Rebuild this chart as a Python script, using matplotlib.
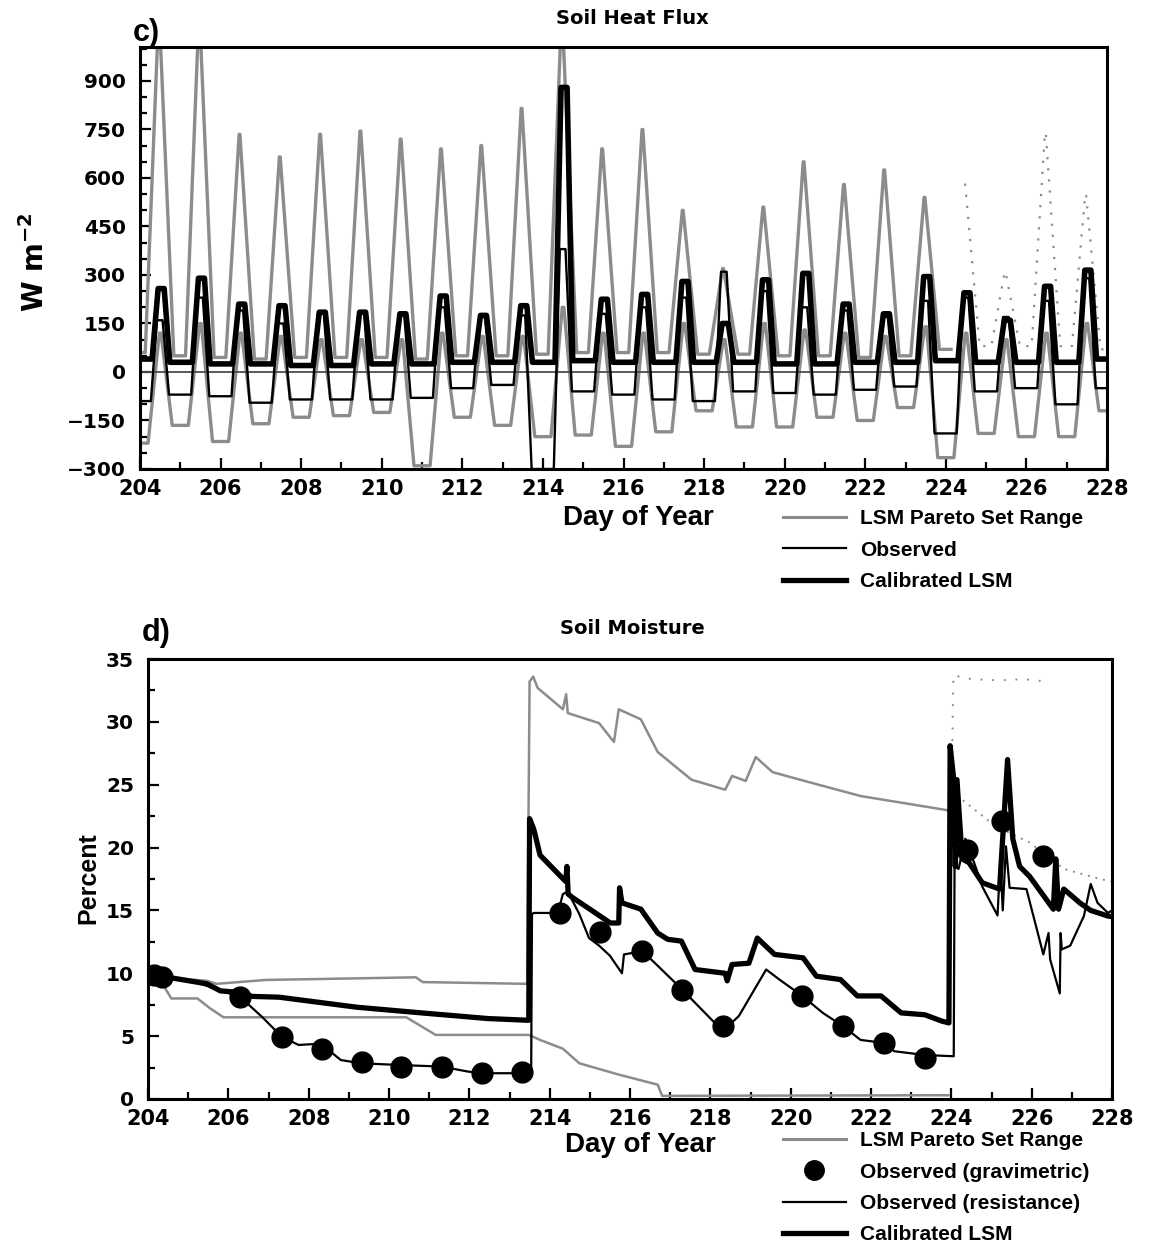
import numpy as np
import matplotlib
matplotlib.use('Agg')
import matplotlib.pyplot as plt
from matplotlib.lines import Line2D
from matplotlib.legend_handler import HandlerLine2D
from matplotlib.ticker import MultipleLocator

plt.rcParams['font.family'] = ['DejaVu Sans']
plt.rcParams['font.weight'] = 'bold'
plt.rcParams['mathtext.default'] = 'bf'
NARROW = ['Liberation Sans Narrow', 'Liberation Sans', 'DejaVu Sans']

# ---------------- panel c) soil heat flux, read per day / per night ----------------
days = np.arange(204, 228)   # daytime peaks of days 204..227
# 25 nights: before day 204, between each pair of days, after day 227

pareto_hi_peak = [1100, 1100, 735, 665, 735, 745, 720, 690, 700, 815, 1100, 690,
                  750, 500, 320, 510, 650, 580, 625, 540, 580, 310, 740, 550]
pareto_hi_night = [60, 50, 45, 40, 45, 45, 45, 40, 50, 50, 55, 60, 60,
                   60, 55, 55, 50, 50, 45, 50, 70, 80, 80, 80, 70]
pareto_lo_peak = [120, 150, 120, 110, 100, 100, 100, 120, 110, 110, 200, 120,
                  120, 150, 100, 150, 130, 120, 110, 140, 120, 100, 120, 150]
pareto_lo_night = [-220, -165, -215, -160, -140, -135, -125, -290, -140, -165, -200, -195, -230,
                   -185, -120, -170, -170, -140, -150, -110, -265, -190, -200, -200, -120]
obs_peak = [160, 230, 190, 150, 185, 185, 175, 200, 170, 175, 380, 180,
            200, 230, 310, 250, 200, 190, 170, 220, 230, 170, 220, 290]
obs_night = [-90, -70, -75, -95, -85, -85, -85, -80, -50, -40, -300, -60, -70,
             -85, -90, -60, -65, -70, -55, -45, -190, -60, -50, -100, -50]
cal_peak = [258, 290, 210, 205, 185, 185, 180, 235, 175, 205, 880, 225,
            240, 280, 150, 285, 305, 210, 180, 295, 245, 160, 265, 315]
cal_night = [40, 30, 25, 25, 20, 20, 25, 25, 30, 30, 30, 35, 30,
             30, 30, 30, 25, 25, 30, 30, 35, 30, 30, 30, 40]

# ---------------- panel d) soil moisture ----------------
grav_day = [204.15, 204.35, 206.28, 207.33, 208.32, 209.32, 210.31, 211.31, 212.32, 213.30,
            214.25, 215.25, 216.31, 217.30, 218.31, 220.29, 221.30, 222.32, 223.34,
            224.40, 225.26, 226.29]
grav_val = [9.9, 9.7, 8.1, 4.95, 4.0, 2.97, 2.58, 2.58, 2.1, 2.18,
            14.8, 13.3, 11.8, 8.7, 5.8, 8.2, 5.8, 4.46, 3.27,
            19.8, 22.1, 19.3]

res_day = [204.0, 205.0, 206.3, 206.85, 207.33, 207.75, 208.3, 208.8, 209.3, 210.3, 211.3,
           211.97, 212.32, 213.28, 213.54, 213.56, 213.6, 214.2, 214.33, 214.45, 214.74,
           214.98, 215.23, 215.5, 215.8, 215.85, 216.31, 216.69, 217.3, 217.79, 218.31,
           218.71, 219.39, 219.72, 220.29, 220.8, 221.3, 221.74, 222.32, 222.58, 223.34,
           224.06, 224.08, 224.18, 224.35, 224.6, 224.77, 225.15, 225.22, 225.28, 225.36,
           225.45, 225.87, 226.29, 226.42, 226.46, 226.7, 226.72, 226.75, 226.96, 227.3,
           227.47, 227.64, 227.9, 228.0]
res_val = [9.7, 9.5, 8.1, 6.5, 4.95, 4.3, 4.4, 3.1, 2.84, 2.7, 2.58,
           2.18, 2.05, 2.05, 2.3, 14.7, 14.8, 14.8, 16.3, 16.5, 14.7,
           12.8, 12.2, 11.4, 10.0, 11.5, 11.76, 10.6, 8.7, 7.1, 5.4,
           6.6, 10.3, 9.5, 8.2, 6.85, 5.8, 4.7, 4.46, 3.8, 3.5,
           3.4, 18.5, 18.3, 20.7, 18.5, 16.9, 14.6, 19.1, 15.0, 20.1,
           16.8, 16.7, 11.5, 13.2, 11.1, 8.4, 13.2, 11.9, 12.2, 14.55,
           17.1, 15.6, 14.8, 15.0]

cal_day = [204.0, 205.47, 205.8, 206.2, 206.6, 207.26, 209.2, 210.84, 212.46, 213.48,
           213.5, 213.6, 213.64, 213.76, 214.4, 214.43, 214.46, 214.58, 215.0, 215.51,
           215.72, 215.74, 215.8, 216.27, 216.69, 216.94, 217.28, 217.62, 218.37, 218.42,
           218.54, 218.96, 219.17, 219.6, 220.31, 220.64, 221.24, 221.66, 222.25, 222.75,
           223.34, 223.76, 223.94, 223.97, 224.06, 224.1, 224.14, 224.27, 224.44, 224.77,
           225.2, 225.4, 225.53, 225.7, 225.95, 226.54, 226.6, 226.67, 226.8, 227.2,
           227.47, 227.9, 228.0]
cal_val = [9.95, 9.16, 8.6, 8.5, 8.16, 8.1, 7.3, 6.84, 6.4, 6.26,
           22.3, 21.5, 21.0, 19.4, 17.3, 18.5, 16.3, 16.0, 15.1, 14.0,
           14.0, 16.8, 15.6, 15.1, 13.2, 12.7, 12.56, 10.3, 10.0, 9.4,
           10.7, 10.8, 12.8, 11.5, 11.23, 9.77, 9.5, 8.2, 8.2, 6.85,
           6.7, 6.2, 6.05, 28.1, 25.4, 18.5, 25.4, 19.1, 18.8, 17.2,
           16.7, 27.0, 20.7, 18.5, 17.7, 15.1, 19.1, 15.1, 16.7, 15.6,
           15.0, 14.55, 14.5]

phi_day = [204.0, 205.47, 205.7, 206.93, 210.67, 210.84, 213.44, 213.5, 213.59, 213.7,
           214.33, 214.41, 214.45, 215.23, 215.6, 215.72, 216.27, 216.69, 217.53, 218.37,
           218.54, 218.88, 219.13, 219.55, 220.23, 221.74, 223.85, 223.97]
phi_val = [9.8, 9.4, 9.16, 9.47, 9.68, 9.3, 9.16, 33.2, 33.6, 32.7,
           31.0, 32.2, 30.7, 29.9, 28.4, 31.0, 30.2, 27.6, 25.4, 24.6,
           25.7, 25.3, 27.2, 26.0, 25.4, 24.1, 23.0, 22.9]
# after day 224 the upper part of the range is only drawn as sparse dots
phi_top_day = [224.0, 224.05, 224.5, 225.2, 225.8, 226.4]
phi_top_val = [22.9, 33.7, 33.4, 33.3, 33.4, 33.2]
phi_tail_day = [224.0, 224.27, 225.1, 225.95, 226.8, 227.7, 228.0]
phi_tail_val = [23.0, 23.8, 21.7, 20.4, 18.3, 17.5, 17.3]

plo_day = [204.0, 204.41, 204.58, 205.23, 205.55, 205.88, 210.43, 211.16, 213.48, 213.76,
           214.33, 214.74, 215.72, 216.69, 216.8, 223.93]
plo_val = [9.4, 8.9, 8.0, 8.0, 7.2, 6.5, 6.5, 5.1, 5.1, 4.7,
           4.0, 2.84, 1.94, 1.14, 0.25, 0.3]


def diurnal(night, peak, t_rise, t_top0, t_top1, t_fall):
    # polyline through the read night and peak values of each day
    t = [days[0]]
    v = [night[0]]
    for k, d in enumerate(days):
        t += [d + t_rise, d + t_top0, d + t_top1, d + t_fall]
        v += [night[k], peak[k], peak[k], night[k + 1]]
    t.append(days[-1] + 1)
    v.append(night[-1])
    return np.array(t), np.array(v)


GRAY = '0.55'
W, H = 1156, 1243
fig = plt.figure(figsize=(W / 100, H / 100), dpi=100)
ax1 = fig.add_axes([140 / W, 1 - 469 / H, 967 / W, 422 / H])
ax2 = fig.add_axes([148 / W, 1 - 1099 / H, 964 / W, 440 / H])

# ----- panel c -----
t, v = diurnal(pareto_hi_night, pareto_hi_peak, 0.13, 0.46, 0.48, 0.84)
solid = t <= 224.3
ax1.plot(t[solid], v[solid], color=GRAY, lw=2.4)
ax1.plot(t[t >= 224.2], v[t >= 224.2], color=GRAY, lw=1.6, ls=(0, (1, 4)))
t, v = diurnal(pareto_lo_night, pareto_lo_peak, 0.2, 0.48, 0.52, 0.8)
ax1.plot(t, v, color=GRAY, lw=2.4)
ax1.axhline(0, color='0.3', lw=1.3)
t, v = diurnal(obs_night, obs_peak, 0.27, 0.42, 0.56, 0.72)
ax1.plot(t, v, color='black', lw=1.7)
t, v = diurnal(cal_night, cal_peak, 0.3, 0.45, 0.6, 0.74)
ax1.plot(t, v, color='black', lw=4.0)

ax1.set_xlim(204, 228)
ax1.set_ylim(-300, 1005)
ax1.yaxis.set_major_locator(MultipleLocator(150))
ax1.yaxis.set_minor_locator(MultipleLocator(50))

# ----- panel d -----
ax2.plot(phi_day, phi_val, color=GRAY, lw=1.8)
ax2.plot(phi_top_day, phi_top_val, color=GRAY, lw=1.4, ls=(0, (1, 5)))
ax2.plot(phi_tail_day, phi_tail_val, color=GRAY, lw=1.4, ls=(0, (1, 3)))
ax2.plot(plo_day, plo_val, color=GRAY, lw=1.8)
ax2.plot(res_day, res_val, color='black', lw=1.6)
ax2.plot(cal_day, cal_val, color='black', lw=3.8)
ax2.plot(grav_day, grav_val, 'o', color='black', ms=15, zorder=5)

ax2.set_xlim(204, 228)
ax2.set_ylim(0, 35)
ax2.yaxis.set_major_locator(MultipleLocator(5))
ax2.yaxis.set_minor_locator(MultipleLocator(2.5))

for ax in (ax1, ax2):
    ax.xaxis.set_major_locator(MultipleLocator(2))
    ax.xaxis.set_minor_locator(MultipleLocator(1))
    ax.tick_params(which='both', direction='in', width=1.6, top=False, right=False)
    ax.tick_params(which='major', length=8)
    ax.tick_params(which='minor', length=5)
    ax.tick_params(axis='y', labelsize=14.5, pad=10)
    ax.tick_params(axis='x', labelsize=15, pad=7)
    for lab in ax.get_xticklabels() + ax.get_yticklabels():
        lab.set_fontweight('bold')
    for sp in ax.spines.values():
        sp.set_linewidth(2.2)

ax1.yaxis.set_major_formatter(plt.FuncFormatter(lambda y, p: f'{y:.0f}'.replace('-', '\u2212')))

# titles and labels
fig.text(632 / W, 1 - 18 / H, 'Soil Heat Flux', ha='center', va='center', fontsize=14, fontweight='bold')
fig.text(632 / W, 1 - 628 / H, 'Soil Moisture', ha='center', va='center', fontsize=14, fontweight='bold')
fig.text(146 / W, 1 - 33 / H, 'c)', ha='center', va='center', fontsize=22, fontweight='bold', family=NARROW)
fig.text(156 / W, 1 - 633 / H, 'd)', ha='center', va='center', fontsize=22, fontweight='bold', family=NARROW)
fig.text(35 / W, 1 - 262 / H, 'W m$^{-2}$', rotation=90, ha='center', va='center', fontsize=20, fontweight='bold')
fig.text(88 / W, 1 - 878 / H, 'Percent', rotation=90, ha='center', va='center', fontsize=18, fontweight='bold', family=NARROW)
fig.text(638 / W, 1 - 518 / H, 'Day of Year', ha='center', va='center', fontsize=20, fontweight='bold', family=NARROW)
fig.text(640 / W, 1 - 1145 / H, 'Day of Year', ha='center', va='center', fontsize=20, fontweight='bold', family=NARROW)


class HandlerRightMarker(HandlerLine2D):
    def get_xdata(self, legend, xdescent, ydescent, width, height, fontsize):
        xdata, _ = super().get_xdata(legend, xdescent, ydescent, width, height, fontsize)
        return xdata, [-xdescent + width - 0.4 * fontsize]


leg_font = {'family': NARROW, 'weight': 'bold', 'size': 15}
h_range = Line2D([], [], color=GRAY, lw=2.2)
h_obs = Line2D([], [], color='black', lw=1.6)
h_cal = Line2D([], [], color='black', lw=3.8)
h_grav = Line2D([], [], ls='none', marker='o', color='black', ms=14)

fig.legend([h_range, h_obs, h_cal], ['LSM Pareto Set Range', 'Observed', 'Calibrated LSM'],
           loc='upper left', bbox_to_anchor=(783 / W, 1 - 509 / H), frameon=False, prop=leg_font,
           handlelength=3.0, handletextpad=0.7, labelspacing=0.6, borderpad=0, borderaxespad=0)
fig.legend([h_range, h_grav, h_obs, h_cal],
           ['LSM Pareto Set Range', 'Observed (gravimetric)', 'Observed (resistance)', 'Calibrated LSM'],
           loc='upper left', bbox_to_anchor=(783 / W, 1 - 1131 / H), frameon=False, prop=leg_font,
           handlelength=3.0, handletextpad=0.7, labelspacing=0.6, borderpad=0, borderaxespad=0,
           handler_map={h_grav: HandlerRightMarker(numpoints=1)})

fig.savefig('out.png', dpi=100)
